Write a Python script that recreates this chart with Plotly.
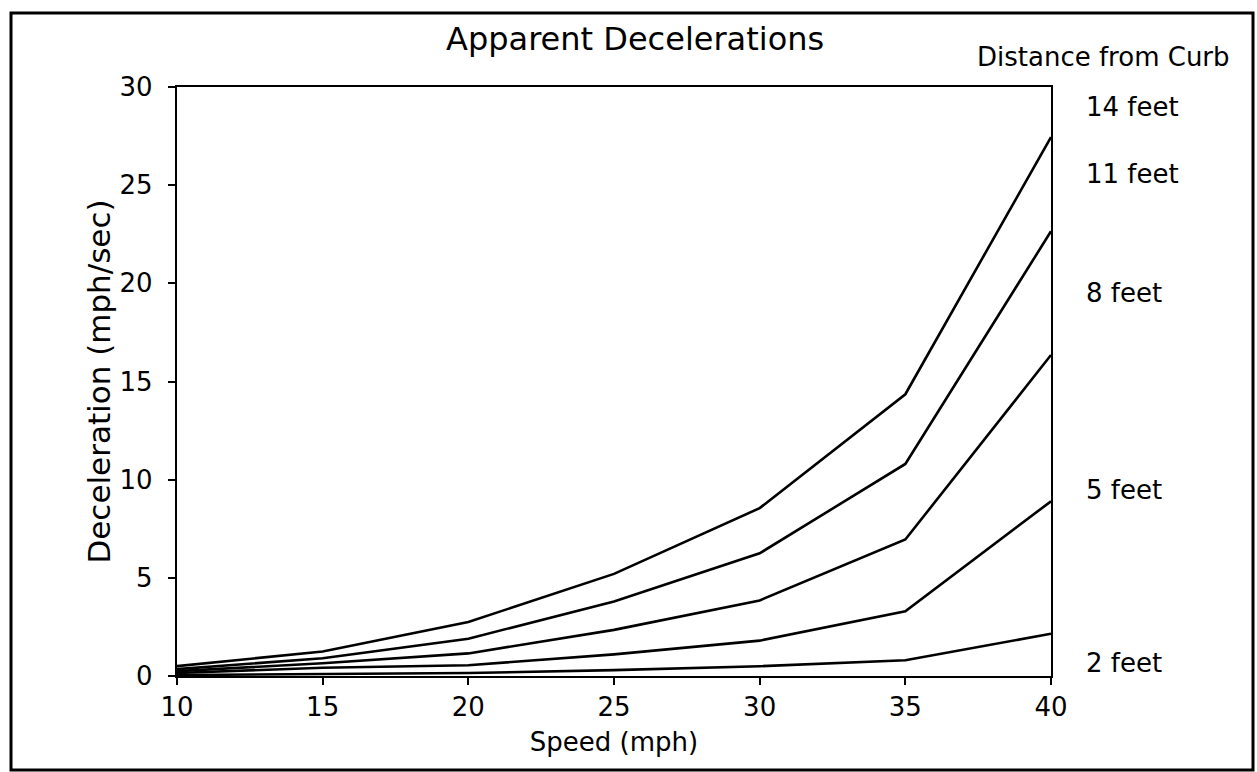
import plotly.graph_objects as go

speed = [10, 15, 20, 25, 30, 35, 40]
dist_labels = ["14 feet", "11 feet", "8 feet", "5 feet", "2 feet"]
decel_14 = [0.5, 1.25, 2.75, 5.2, 8.55, 14.35, 27.45]
decel_11 = [0.35, 0.9, 1.9, 3.8, 6.25, 10.8, 22.65]
decel_8 = [0.25, 0.65, 1.15, 2.35, 3.85, 6.95, 16.35]
decel_5 = [0.15, 0.42, 0.55, 1.1, 1.8, 3.3, 8.9]
decel_2 = [0.05, 0.1, 0.15, 0.3, 0.5, 0.8, 2.15]
series = [decel_14, decel_11, decel_8, decel_5, decel_2]

W, H = 1257, 772
L, R, T, B = 177, 1051, 87, 676
FONT = "DejaVu Sans"

fig = go.Figure()
for name, ys in zip(dist_labels, series):
    fig.add_trace(go.Scatter(x=speed, y=ys, mode="lines", name=name,
                             line=dict(color="black", width=2.6), showlegend=False))

def px(xp):
    return (xp - L) / (R - L)

def py(yp):
    return (B - yp) / (B - T)

label_y = [107, 174, 293, 490, 663]
ann = []
for t, yy in zip(dist_labels, label_y):
    ann.append(dict(text=t, xref="paper", yref="paper", x=px(1084), y=py(yy),
                    xanchor="left", yanchor="middle", showarrow=False,
                    font=dict(family=FONT, size=26, color="black")))
ann.append(dict(text="Distance from Curb", xref="paper", yref="paper", x=px(1232), y=py(57),
                xanchor="right", yanchor="middle", showarrow=False,
                font=dict(family=FONT, size=26, color="black")))
ann.append(dict(text="Apparent Decelerations", xref="paper", yref="paper", x=px(635), y=py(39),
                xanchor="center", yanchor="middle", showarrow=False,
                font=dict(family=FONT, size=32, color="black")))

fig.update_layout(
    width=W, height=H,
    margin=dict(l=L, r=W - R, t=T, b=H - B),
    paper_bgcolor="white", plot_bgcolor="white",
    xaxis=dict(range=[10, 40], tickvals=[10, 15, 20, 25, 30, 35, 40],
               showgrid=False, zeroline=False, showline=True, linecolor="black", linewidth=2.4,
               mirror=True, ticks="outside", ticklen=7, tickwidth=2, tickcolor="black",
               tickfont=dict(family=FONT, size=26, color="black"),
               title=dict(text="Speed (mph)", standoff=11,
                          font=dict(family=FONT, size=26, color="black"))),
    yaxis=dict(range=[0, 30], tickvals=[0, 5, 10, 15, 20, 25, 30],
               showgrid=False, zeroline=False, showline=True, linecolor="black", linewidth=2.4,
               mirror=True, ticks="outside", ticklen=7, tickwidth=2, tickcolor="black",
               ticklabelstandoff=10,
               tickfont=dict(family=FONT, size=26, color="black"),
               title=dict(text="Deceleration (mph/sec)", standoff=0,
                          font=dict(family=FONT, size=31, color="black"))),
    annotations=ann,
    shapes=[dict(type="rect", xref="paper", yref="paper",
                 x0=px(11), x1=px(1253), y0=py(770), y1=py(13),
                 line=dict(color="black", width=3))],
)

fig.write_html("out.html", config={"displayModeBar": False},
               post_script="document.body.style.margin='0';")
